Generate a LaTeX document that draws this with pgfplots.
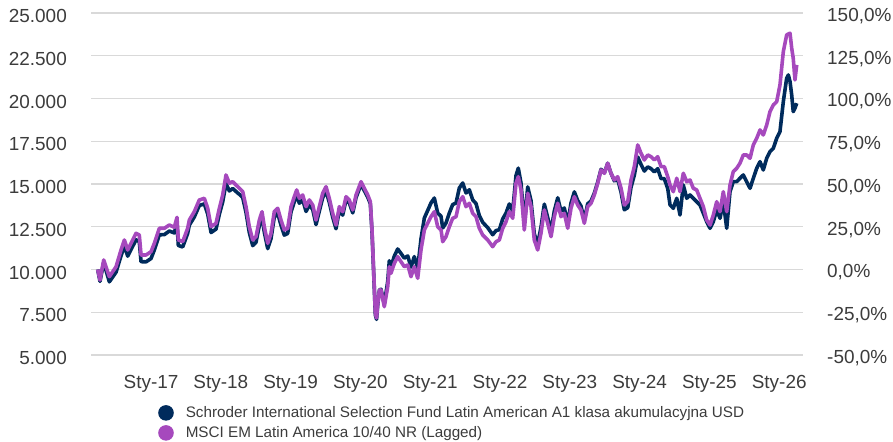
\documentclass[border=0pt]{standalone}
\usepackage{pgfplots}
\pgfplotsset{compat=1.18}
\usepackage{fontspec}
\setmainfont{Liberation Sans}
\definecolor{navyc}{RGB}{0,43,92}
\definecolor{purplec}{RGB}{166,73,189}
\definecolor{gridc}{RGB}{217,217,217}
\definecolor{textc}{RGB}{60,60,60}
\begin{document}
\begin{tikzpicture}
\path[use as bounding box] (0bp,0bp) rectangle (893bp,442bp);
\begin{axis}[
  at={(91bp,87bp)}, anchor=south west, scale only axis,
  width=712bp, height=342bp,
  xmin=2016.14, xmax=2026.341, ymin=5000, ymax=25000,
  scaled x ticks=false, scaled y ticks=false,
  axis line style={draw=none}, tick style={draw=none}, major tick length=0pt,
  ymajorgrids, grid style={gridc, line width=1.4bp},
  xtick={2017,2018,2019,2020,2021,2022,2023,2024,2025,2026},
  xticklabels={Sty-17,Sty-18,Sty-19,Sty-20,Sty-21,Sty-22,Sty-23,Sty-24,Sty-25,Sty-26},
  ytick={5000,7500,10000,12500,15000,17500,20000,22500,25000},
  yticklabels={5.000,7.500,10.000,12.500,15.000,17.500,20.000,22.500,25.000},
  ticklabel style={font=\fontsize{19}{22}\selectfont, text=textc, inner sep=0pt},
  xticklabel style={anchor=north, yshift=-20bp},
  yticklabel style={anchor=east, xshift=-24bp, yshift=-3bp},
  /pgf/number format/assume math mode=true,
  legend cell align=left,
  legend style={at={(axis description cs:0.0941,-0.1459)}, anchor=north west,
    draw=none, fill=none, inner sep=0pt, row sep=4.4bp,
    font=\fontsize{15.3}{18}\selectfont, text=textc, nodes={inner sep=0pt},
    /tikz/every odd column/.append style={column sep=12bp}},
  legend image code/.code={\path[#1] (7.8bp,0bp) circle (7.8bp);},
]
\addlegendimage{fill=navyc, draw=none}
\addlegendentry{Schroder International Selection Fund Latin American A1 klasa akumulacyjna USD}
\addlegendimage{fill=purplec, draw=none}
\addlegendentry{MSCI EM Latin America 10/40 NR (Lagged)}
\addplot[forget plot, navyc, line width=3.6bp, line join=round] coordinates {
(2016.236,10000)(2016.269,9305)(2016.322,10406)(2016.403,9280)(2016.499,9844)
(2016.570,10800)(2016.618,11376)(2016.666,10780)(2016.713,11160)(2016.785,11738)
(2016.832,11628)(2016.857,10458)(2016.928,10448)(2017.000,10640)(2017.047,11140)
(2017.119,12030)(2017.191,12040)(2017.262,12250)(2017.334,12140)(2017.372,12730)
(2017.391,11406)(2017.454,11320)(2017.525,12110)(2017.549,12596)(2017.620,13070)
(2017.692,13746)(2017.764,13835)(2017.812,13250)(2017.860,12164)(2017.931,12360)
(2017.979,13230)(2018.027,13958)(2018.074,15028)(2018.122,14593)(2018.170,14736)
(2018.242,14474)(2018.265,14400)(2018.314,14201)(2018.361,13334)(2018.408,12164)
(2018.457,11396)(2018.504,11589)(2018.552,12576)(2018.590,13060)(2018.623,12184)
(2018.672,11220)(2018.719,11808)(2018.766,13070)(2018.815,13280)(2018.862,12596)
(2018.910,12011)(2018.958,12110)(2019.006,13374)(2019.053,13959)(2019.087,14361)
(2019.125,13875)(2019.173,14078)(2019.221,13394)(2019.268,13786)(2019.317,13503)
(2019.364,12626)(2019.411,13414)(2019.460,14208)(2019.507,14594)(2019.554,13925)
(2019.603,13058)(2019.650,12383)(2019.698,13464)(2019.746,13180)(2019.794,14069)
(2019.841,13886)(2019.890,13311)(2019.937,14198)(2020.009,14986)(2020.056,14610)
(2020.105,14228)(2020.142,13846)(2020.166,12201)(2020.191,9678)(2020.214,7338)
(2020.231,7083)(2020.249,7983)(2020.272,8801)(2020.295,8850)(2020.342,7974)
(2020.391,9294)(2020.414,10514)(2020.438,10178)(2020.486,10783)(2020.534,11199)
(2020.582,10936)(2020.629,10664)(2020.678,10793)(2020.725,10139)(2020.772,10754)
(2020.821,10085)(2020.868,11791)(2020.916,13011)(2020.964,13453)(2021.011,13889)
(2021.059,14181)(2021.107,13304)(2021.155,13111)(2021.179,12426)(2021.226,12719)
(2021.274,13304)(2021.322,13795)(2021.370,13889)(2021.417,14766)(2021.466,15059)
(2021.513,14474)(2021.560,14663)(2021.609,14068)(2021.656,13859)(2021.703,13160)
(2021.752,12758)(2021.824,12446)(2021.895,12034)(2021.943,12276)(2021.990,12326)
(2022.039,12960)(2022.086,13296)(2022.133,13831)(2022.182,13415)(2022.229,15493)
(2022.262,15929)(2022.301,15051)(2022.348,12691)(2022.397,14828)(2022.444,14034)
(2022.491,12076)(2022.540,11491)(2022.587,12468)(2022.635,13821)(2022.683,13043)
(2022.731,12249)(2022.778,13419)(2022.827,14193)(2022.874,13409)(2022.921,13598)
(2022.970,12710)(2023.017,13880)(2023.065,14539)(2023.113,14033)(2023.160,13711)
(2023.208,12903)(2023.256,13844)(2023.304,14003)(2023.351,14458)(2023.400,15113)
(2023.447,15861)(2023.495,15648)(2023.543,16213)(2023.590,15628)(2023.638,15186)
(2023.686,15279)(2023.734,14520)(2023.781,13493)(2023.830,13616)(2023.877,14806)
(2023.924,15514)(2023.973,16583)(2024.020,16148)(2024.068,15756)(2024.116,15998)
(2024.163,15899)(2024.211,15706)(2024.259,15899)(2024.307,15314)(2024.354,15314)
(2024.403,14729)(2024.436,13773)(2024.483,13580)(2024.532,14165)(2024.579,13188)
(2024.626,14943)(2024.675,14165)(2024.722,14358)(2024.769,14165)(2024.818,13966)
(2024.865,13773)(2024.913,13288)(2024.961,12796)(2025.009,12410)(2025.056,12796)
(2025.105,13481)(2025.152,12995)(2025.199,13966)(2025.248,12410)(2025.295,14551)
(2025.342,15136)(2025.391,15136)(2025.438,15335)(2025.486,15528)(2025.534,15136)
(2025.582,14750)(2025.629,15335)(2025.678,15920)(2025.725,16306)(2025.772,15821)
(2025.821,16505)(2025.868,16891)(2025.916,17090)(2025.964,17675)(2026.011,18061)
(2026.059,19816)(2026.107,21185)(2026.131,21378)(2026.155,20986)(2026.179,20208)
(2026.201,19231)(2026.226,19430)(2026.251,19723)
};
\addplot[forget plot, purplec, line width=3.6bp, line join=round] coordinates {
(2016.236,10000)(2016.269,9385)(2016.322,10556)(2016.403,9580)(2016.499,10164)
(2016.570,11140)(2016.618,11726)(2016.666,11140)(2016.713,11530)(2016.785,12118)
(2016.832,12018)(2016.857,10848)(2016.928,10848)(2017.000,11040)(2017.047,11530)
(2017.119,12410)(2017.191,12410)(2017.262,12600)(2017.334,12470)(2017.372,13050)
(2017.391,11726)(2017.454,11630)(2017.525,12410)(2017.549,12896)(2017.620,13380)
(2017.692,14066)(2017.764,14165)(2017.812,13580)(2017.860,12504)(2017.931,12700)
(2017.979,13580)(2018.027,14358)(2018.074,15528)(2018.122,15043)(2018.170,15136)
(2018.242,14844)(2018.265,14750)(2018.314,14551)(2018.361,13674)(2018.408,12504)
(2018.457,11726)(2018.504,11919)(2018.552,12896)(2018.590,13380)(2018.623,12504)
(2018.672,11530)(2018.719,12118)(2018.766,13380)(2018.815,13580)(2018.862,12896)
(2018.910,12311)(2018.958,12410)(2019.006,13674)(2019.053,14259)(2019.087,14651)
(2019.125,14165)(2019.173,14358)(2019.221,13674)(2019.268,14066)(2019.317,13773)
(2019.364,12896)(2019.411,13674)(2019.460,14458)(2019.507,14844)(2019.554,14165)
(2019.603,13288)(2019.650,12603)(2019.698,13674)(2019.746,13380)(2019.794,14259)
(2019.841,14066)(2019.890,13481)(2019.937,14358)(2020.009,15136)(2020.056,14750)
(2020.105,14358)(2020.142,13966)(2020.166,12311)(2020.191,9778)(2020.214,7438)
(2020.231,7163)(2020.249,8023)(2020.272,8801)(2020.295,8800)(2020.342,7824)
(2020.391,8994)(2020.414,10164)(2020.438,9778)(2020.486,10363)(2020.534,10749)
(2020.582,10456)(2020.629,10164)(2020.678,10263)(2020.725,9579)(2020.772,10164)
(2020.821,9485)(2020.868,11141)(2020.916,12311)(2020.964,12703)(2021.011,13089)
(2021.059,13381)(2021.107,12504)(2021.155,12311)(2021.179,11626)(2021.226,11919)
(2021.274,12504)(2021.322,12995)(2021.370,13089)(2021.417,13966)(2021.466,14259)
(2021.513,13674)(2021.560,13873)(2021.609,13288)(2021.656,13089)(2021.703,12410)
(2021.752,12018)(2021.824,11726)(2021.895,11334)(2021.943,11626)(2021.990,11726)
(2022.039,12410)(2022.086,12796)(2022.133,13381)(2022.182,12995)(2022.229,15043)
(2022.262,15429)(2022.301,14651)(2022.348,12311)(2022.397,14458)(2022.444,13674)
(2022.491,11726)(2022.540,11141)(2022.587,12118)(2022.635,13481)(2022.683,12703)
(2022.731,11919)(2022.778,13089)(2022.827,13873)(2022.874,13089)(2022.921,13288)
(2022.970,12410)(2023.017,13580)(2023.065,14259)(2023.113,13773)(2023.160,13481)
(2023.208,12703)(2023.256,13674)(2023.304,13873)(2023.351,14358)(2023.400,15043)
(2023.447,15821)(2023.495,15628)(2023.543,16213)(2023.590,15628)(2023.638,15236)
(2023.686,15429)(2023.734,14750)(2023.781,13773)(2023.830,13966)(2023.877,15236)
(2023.924,16014)(2023.973,17283)(2024.020,16798)(2024.068,16406)(2024.116,16698)
(2024.163,16599)(2024.211,16406)(2024.259,16599)(2024.307,16014)(2024.354,16014)
(2024.403,15429)(2024.436,14943)(2024.483,14551)(2024.532,15335)(2024.579,14551)
(2024.626,15628)(2024.675,15136)(2024.722,15236)(2024.769,14750)(2024.818,14651)
(2024.865,14165)(2024.913,13674)(2024.961,12896)(2025.009,12603)(2025.056,13188)
(2025.105,13966)(2025.152,13381)(2025.199,14551)(2025.248,13381)(2025.295,14943)
(2025.342,15721)(2025.391,15920)(2025.438,16213)(2025.486,16698)(2025.534,16698)
(2025.582,16505)(2025.629,17283)(2025.678,17675)(2025.725,18161)(2025.772,17868)
(2025.821,18453)(2025.868,19231)(2025.916,19623)(2025.964,19816)(2026.011,20793)
(2026.059,22741)(2026.107,23718)(2026.155,23818)(2026.179,22940)(2026.201,22355)
(2026.226,21086)(2026.251,21963)
};
\end{axis}
\begin{axis}[
  at={(91bp,87bp)}, anchor=south west, scale only axis,
  width=712bp, height=342bp,
  xmin=2016.14, xmax=2026.341, ymin=-50, ymax=150,
  scaled x ticks=false, scaled y ticks=false,
  hide x axis, axis y line*=right, y axis line style={draw=none},
  major tick length=0pt, ytick style={draw=none},
  ytick={-50,-25,0,25,50,75,100,125,150},
  yticklabels={{-50,0\%},{-25,0\%},{0,0\%},{25,0\%},{50,0\%},{75,0\%},{100,0\%},{125,0\%},{150,0\%}},
  yticklabel style={font=\fontsize{19}{22}\selectfont, text=textc, inner sep=0pt, anchor=west, xshift=24bp, yshift=-3bp},
]
\addplot[draw=none] coordinates {(2017,0)};
\end{axis}
\end{tikzpicture}
\end{document}
